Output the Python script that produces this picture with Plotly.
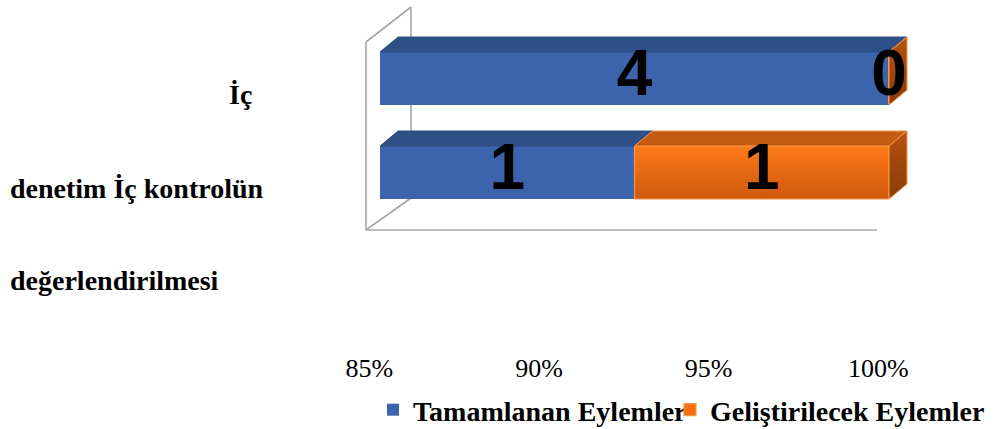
import numpy as np
import plotly.graph_objects as go

# ---------------- data ----------------
categories = ["İç kontrolün değerlendirilmesi", "İç denetim"]   # bottom -> top
tamamlanan = [1, 4]
gelistirilecek = [1, 0]
series_names = ["Tamamlanan Eylemler", "Geliştirilecek Eylemler"]
tick_labels = ["85%", "90%", "95%", "100%"]
label_lines = ["İç", "denetim İç kontrolün", "değerlendirilmesi"]

# ---------------- layout geometry ----------------
W, H = 998, 429
L, R, T, B = 355, 78, 0, 79
PW, PH = W - L - R, H - T - B
X0PX, XPX = 380, 5.09          # pixel of x=0, pixels per unit
Y1PX, YPX = 78.5, 94.0         # pixel of y=1, pixels per unit
xr = [(L - X0PX) / XPX, (W - R - X0PX) / XPX]
yr = [1 - (T + PH - Y1PX) / YPX, 1 + (Y1PX - T) / YPX]
BW = 53 / YPX                  # bar thickness
DX, DY = 18 / XPX, 15 / YPX    # 3-D depth
TICK_SHIFT = 2.1


def px(x):
    return (x - L) / PW


def py(y):
    return (T + PH - y) / PH


BLUE, BLUE_TOP = "#3B64AD", "#2E4F87"
ORANGE, ORANGE_TOP, ORANGE_SIDE, ORANGE_EDGE = "#F26F12", "#C55A11", "#A44A0E", "#F79646"
ORANGE_GRAD = [[0, "#CD580E"], [1, "#FF7A18"]]
SIDE_GRAD = [[0, "#8A3B08"], [1, "#B5520F"]]

ypos = list(range(len(categories)))
totals = [a + b for a, b in zip(tamamlanan, gelistirilecek)]
p1 = [a / t * 100 for a, t in zip(tamamlanan, totals)]
p2 = [b / t * 100 for b, t in zip(gelistirilecek, totals)]

fig = go.Figure()
fig.add_trace(go.Bar(
    y=ypos, x=p1, orientation="h", width=BW, name="<b>" + series_names[0] + "</b>",
    marker=dict(color=BLUE, line=dict(width=0)), legend="legend", hoverinfo="skip"))
fig.add_trace(go.Bar(
    y=ypos, x=p2, base=p1, orientation="h", width=BW, name="<b>" + series_names[1] + "</b>",
    marker=dict(color=ORANGE, line=dict(width=1.2, color=ORANGE_EDGE)), legend="legend2",
    hoverinfo="skip"))

# 3-D faces derived from the data
for i, y in enumerate(ypos):
    yt = y + BW / 2
    yb = y - BW / 2
    s, e = p1[i], p1[i] + p2[i]
    # shaded front face of the orange segment
    if e > s:
        fig.add_trace(go.Scatter(
            x=[s, e, e, s, s], y=[yb, yb, yt, yt, yb], fill="toself",
            fillgradient=dict(type="vertical", colorscale=ORANGE_GRAD),
            mode="lines", line=dict(color=ORANGE_EDGE, width=1.2),
            showlegend=False, hoverinfo="skip"))
    segs = [(0, p1[i], BLUE_TOP, BLUE_TOP), (s, e, ORANGE_TOP, ORANGE_EDGE)]
    for s0, e0, col, edge in segs:
        fig.add_trace(go.Scatter(
            x=[s0, e0, e0 + DX, s0 + DX, s0], y=[yt, yt, yt + DY, yt + DY, yt],
            fill="toself", fillcolor=col, mode="lines", line=dict(color=edge, width=1),
            showlegend=False, hoverinfo="skip"))
    fig.add_trace(go.Scatter(
        x=[e, e + DX, e + DX, e, e], y=[yb, yb + DY, yt + DY, yt, yb],
        fill="toself", fillgradient=dict(type="vertical", colorscale=SIDE_GRAD),
        mode="lines", line=dict(color=ORANGE_EDGE, width=1),
        showlegend=False, hoverinfo="skip"))

# value labels
lx, ly, lt = [], [], []
for i, y in enumerate(ypos):
    lx += [p1[i] / 2, p1[i] + p2[i] / 2]
    ly += [y, y]
    lt += ["<b>%d</b>" % tamamlanan[i], "<b>%d</b>" % gelistirilecek[i]]
fig.add_trace(go.Scatter(
    x=lx, y=ly, text=lt, mode="text", textposition="middle center",
    textfont=dict(family="Liberation Sans, Arial", size=64, color="black"),
    showlegend=False, hoverinfo="skip", cliponaxis=False))

# wall and floor outlines
GRAY = "#A6A6A6"
wall = [((366, 42), (366, 230)), ((366, 42), (411, 7)), ((411, 7), (411, 198)),
        ((366, 230), (411, 198)), ((366, 230), (877, 230))]
for (xa, ya), (xb, yb) in wall:
    fig.add_shape(type="line", xref="paper", yref="paper", x0=px(xa), y0=py(ya),
                  x1=px(xb), y1=py(yb), line=dict(color=GRAY, width=1.6), layer="below")

# category labels
for txt, (x, y) in zip(label_lines, [(227, 94), (8, 188), (8, 280)]):
    fig.add_annotation(text="<b>" + txt + "</b>", xref="paper", yref="paper",
                       x=px(x), y=py(y), xanchor="left", yanchor="middle", showarrow=False,
                       font=dict(family="Liberation Serif, Times New Roman", size=28, color="black"))

tickvals = list(np.linspace(0, 100, len(tick_labels)) - TICK_SHIFT)

legfont = dict(family="Liberation Serif, Times New Roman", size=28, color="black")
fig.update_layout(
    width=W, height=H, margin=dict(l=L, r=R, t=T, b=B),
    paper_bgcolor="white", plot_bgcolor="rgba(0,0,0,0)",
    barmode="stack", bargap=0,
    xaxis=dict(range=xr, tickvals=tickvals, ticktext=tick_labels, showgrid=False,
               zeroline=False, showline=False, ticks="",
               tickfont=dict(family="Liberation Serif, Times New Roman", size=26, color="black")),
    yaxis=dict(range=yr, showticklabels=False, showgrid=False, zeroline=False, showline=False),
    legend=dict(orientation="h", xref="container", yref="container", x=373 / W,
                y=1 - 410 / H, xanchor="left", yanchor="middle", font=legfont,
                bgcolor="rgba(0,0,0,0)"),
    legend2=dict(orientation="h", xref="container", yref="container", x=670 / W,
                 y=1 - 410 / H, xanchor="left", yanchor="middle", font=legfont,
                 bgcolor="rgba(0,0,0,0)"),
)

fig.write_html("out.html", config={"displayModeBar": False},
               post_script="document.body.style.margin='0';")
